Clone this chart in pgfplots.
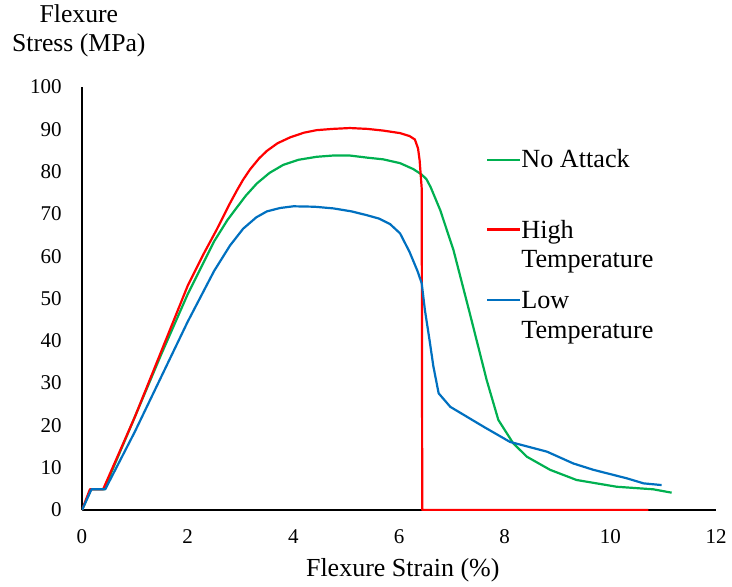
\documentclass[border=0pt]{standalone}
\usepackage{fontspec}
\setmainfont{Liberation Serif}
\usepackage{pgfplots}
\pgfplotsset{compat=1.18}
\definecolor{cgreen}{RGB}{0,176,80}
\definecolor{cred}{RGB}{255,0,0}
\definecolor{cblue}{RGB}{0,112,192}
\begin{document}
\begin{tikzpicture}
\begin{axis}[
 scale only axis, width=317pt, height=211.5pt,
 xmin=0, xmax=12, ymin=0, ymax=100,
 xtick={0,2,...,12}, ytick={0,10,...,100},
 axis x line*=bottom, axis y line*=left,
 axis line style={-, black, line width=0.75pt},
 major tick length=0pt,
 /pgf/number format/assume math mode=true,
 tick label style={font=\fontsize{10.5}{12}\selectfont},
 xticklabel style={anchor=center, yshift=-13.5pt},
 yticklabel style={anchor=east, inner sep=0pt, xshift=-10pt},
 xlabel={Flexure Strain (\%)},
 xlabel style={at={(axis description cs:0.506,-0.142)}, anchor=center, font=\fontsize{13}{14.5}\selectfont},
 ylabel={Flexure\\Stress (MPa)},
 ylabel style={rotate=-90, at={(axis description cs:-0.005,1.132)}, anchor=center, align=center, font=\fontsize{12.85}{14.5}\selectfont},
 legend style={draw=none, fill=none, at={(axis description cs:0.6375,0.862)}, anchor=north west, inner sep=0pt, outer sep=0pt, row sep=19.6pt, font=\fontsize{13.1}{14.6}\selectfont,
   /tikz/every odd column/.append style={column sep=-2pt}},
 legend cell align=left,
 legend image code/.code={\draw[#1] (0pt,0pt) -- (16.5pt,0pt);},
 every axis plot/.append style={line width=1.1pt, line join=round},
]
\addplot[cgreen] coordinates {(0,0) (0.17,4.9) (0.42,4.9) (1,22) (1.5,36.8) (2,51) (2.5,63.5) (2.75,68.5) (2.93,71.5) (3.1,74.3) (3.31,77.2) (3.55,79.7) (3.81,81.6) (4.1,82.8) (4.44,83.5) (4.75,83.8) (5.07,83.8) (5.4,83.3) (5.7,82.9) (6.02,82) (6.27,80.6) (6.43,79.3) (6.52,78.2) (6.6,76.3) (6.78,70.9) (7.03,61.5) (7.34,46.5) (7.66,30.7) (7.88,21.3) (8.16,15.8) (8.42,12.6) (8.86,9.5) (9.36,7.1) (10.12,5.5) (10.81,4.9) (11.16,4.1)};
\addlegendentry{No Attack}
\addplot[cred] coordinates {(0,0) (0.15,4.9) (0.4,4.9) (1,22) (1.5,37.5) (2,53) (2.3,60.5) (2.55,66.3) (2.8,72.5) (2.93,75.5) (3.05,78.1) (3.18,80.5) (3.35,83.1) (3.5,84.9) (3.7,86.7) (3.94,88.1) (4.2,89.2) (4.44,89.8) (4.75,90.1) (5.07,90.3) (5.4,90.1) (5.7,89.7) (6.02,89.1) (6.2,88.4) (6.3,87.6) (6.36,85.5) (6.39,82.7) (6.43,76) (6.44,0) (10.72,0)};
\addlegendentry{\begin{tabular}[t]{@{}l@{}}High\\Temperature\end{tabular}}
\addplot[cblue] coordinates {(0,0) (0.18,4.9) (0.44,4.9) (1,18.5) (1.5,31.5) (2,44.5) (2.5,56.5) (2.8,62.5) (3.05,66.5) (3.3,69.2) (3.5,70.6) (3.75,71.4) (4.0,71.8) (4.4,71.7) (4.76,71.3) (5.1,70.6) (5.39,69.7) (5.62,68.9) (5.83,67.6) (6.02,65.4) (6.2,61) (6.35,56.5) (6.43,53.6) (6.49,47.3) (6.58,40) (6.65,34) (6.75,27.6) (6.97,24.4) (7.6,19.7) (8.1,16.1) (8.8,13.8) (9.3,11.0) (9.68,9.5) (10.31,7.5) (10.63,6.3) (10.97,5.9)};
\addlegendentry{\begin{tabular}[t]{@{}l@{}}Low\\Temperature\end{tabular}}
\end{axis}
\pgfresetboundingbox
\useasboundingbox (-41pt,-38pt) rectangle (325pt,255pt);
\end{tikzpicture}
\end{document}
